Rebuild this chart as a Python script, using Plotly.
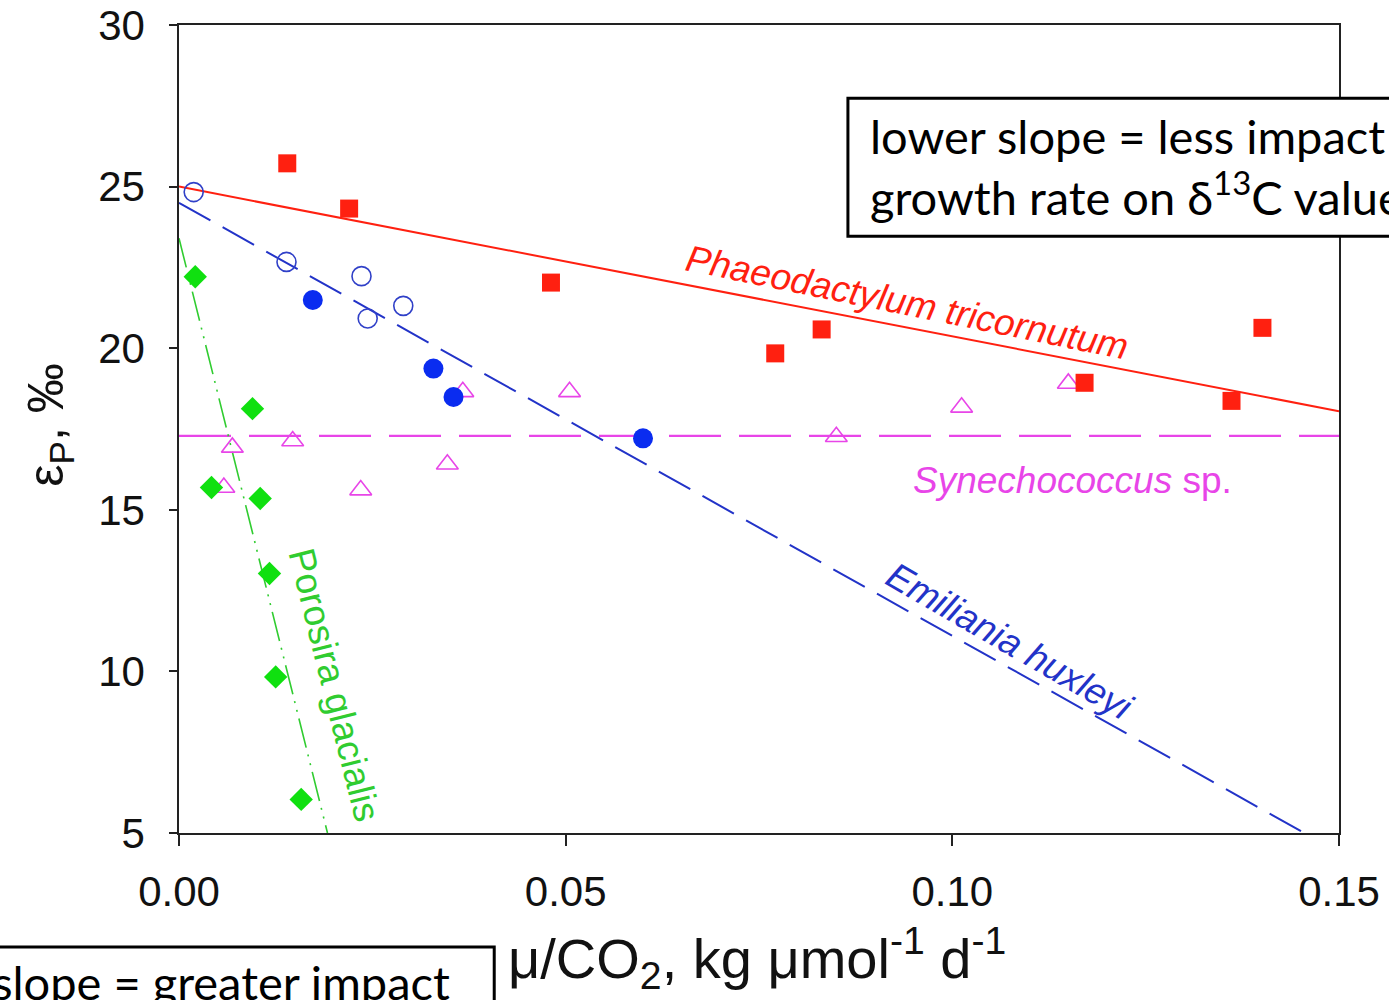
import plotly.graph_objects as go

# ---------------- data ----------------
# Phaeodactylum tricornutum (red filled squares)
phaeo_x = [0.0140, 0.0220, 0.0481, 0.0771, 0.0831, 0.1171, 0.1361, 0.1401]
phaeo_y = [25.72, 24.32, 22.03, 19.84, 20.58, 18.93, 18.37, 20.63]
phaeo_fit_x = [0.0, 0.15]
phaeo_fit_y = [25.0, 18.05]

# Emiliania huxleyi (blue filled circles and open circles)
ehux_filled_x = [0.0173, 0.0329, 0.0355, 0.0600]
ehux_filled_y = [21.49, 19.37, 18.49, 17.21]
ehux_open_x = [0.0019, 0.0139, 0.0236, 0.0244, 0.0290]
ehux_open_y = [24.83, 22.67, 22.23, 20.92, 21.31]
ehux_fit_x = [0.0, 0.1455]
ehux_fit_y = [24.5, 5.0]

# Synechococcus sp. (magenta open triangles)
syn_x = [0.0058, 0.0069, 0.0147, 0.0235, 0.0347, 0.0367, 0.0505, 0.0850, 0.1012, 0.1150]
syn_y = [15.69, 16.93, 17.13, 15.61, 16.41, 18.65, 18.65, 17.26, 18.17, 18.91]
syn_fit_x = [0.0, 0.15]
syn_fit_y = [17.29, 17.29]

# Porosira glacialis (green filled diamonds)
poro_x = [0.0021, 0.0042, 0.0095, 0.0105, 0.0117, 0.0125, 0.0158]
poro_y = [22.21, 15.69, 18.13, 15.35, 13.03, 9.83, 6.04]
poro_fit_x = [0.0, 0.0192]
poro_fit_y = [23.4, 5.0]

x_ticks = [0.0, 0.05, 0.10, 0.15]
x_tick_labels = ["0.00", "0.05", "0.10", "0.15"]
y_ticks = [5, 10, 15, 20, 25, 30]
y_tick_labels = ["5", "10", "15", "20", "25", "30"]

RED = "#ff2010"
BLUE_F = "#0a2cf0"
BLUE_L = "#2233c8"
BLUE_O = "#3040c8"
MAG = "#e845e8"
GREEN = "#10e010"
GREEN_L = "#30cc30"

fig = go.Figure()

# fit lines
fig.add_trace(go.Scatter(x=syn_fit_x, y=syn_fit_y, mode="lines",
                         line=dict(color=MAG, width=2.2, dash="52px,18px"), hoverinfo="skip"))
fig.add_trace(go.Scatter(x=phaeo_fit_x, y=phaeo_fit_y, mode="lines",
                         line=dict(color=RED, width=2), hoverinfo="skip"))
fig.add_trace(go.Scatter(x=ehux_fit_x, y=ehux_fit_y, mode="lines",
                         line=dict(color=BLUE_L, width=2, dash="36px,14px"), hoverinfo="skip"))
fig.add_trace(go.Scatter(x=poro_fit_x, y=poro_fit_y, mode="lines",
                         line=dict(color=GREEN_L, width=1.6, dash="30px,7px,2px,7px,2px,7px"),
                         hoverinfo="skip"))

# markers
fig.add_trace(go.Scatter(x=syn_x, y=syn_y, mode="markers",
                         marker=dict(symbol="triangle-up-open", size=19, color=MAG,
                                     line=dict(color=MAG, width=1.6))))
fig.add_trace(go.Scatter(x=poro_x, y=poro_y, mode="markers",
                         marker=dict(symbol="diamond", size=18, color=GREEN,
                                     line=dict(width=0))))
fig.add_trace(go.Scatter(x=ehux_open_x, y=ehux_open_y, mode="markers",
                         marker=dict(symbol="circle-open", size=19, color=BLUE_O,
                                     line=dict(color=BLUE_O, width=1.6))))
fig.add_trace(go.Scatter(x=ehux_filled_x, y=ehux_filled_y, mode="markers",
                         marker=dict(symbol="circle", size=20, color=BLUE_F,
                                     line=dict(width=0))))
fig.add_trace(go.Scatter(x=phaeo_x, y=phaeo_y, mode="markers",
                         marker=dict(symbol="square", size=18, color=RED,
                                     line=dict(width=0))))

label_font = "Liberation Sans, Arial, sans-serif"
box_font = "Lato, Open Sans, sans-serif"

annotations = [
    dict(x=0.0941, y=21.42, xref="x", yref="y", text="<i>Phaeodactylum tricornutum</i>",
         showarrow=False, textangle=11.5, font=dict(family=label_font, size=37, color=RED)),
    dict(x=0.1074, y=10.91, xref="x", yref="y", text="<i>Emiliania huxleyi</i>",
         showarrow=False, textangle=30, font=dict(family=label_font, size=37, color=BLUE_L)),
    dict(x=0.0200, y=9.58, xref="x", yref="y", text="Porosira glacialis",
         showarrow=False, textangle=76, font=dict(family=label_font, size=37, color=GREEN_L)),
    dict(x=0.1156, y=15.92, xref="x", yref="y", text="<i>Synechococcus</i> sp.",
         showarrow=False, font=dict(family=label_font, size=37, color=MAG)),
    # axis titles
    dict(x=757, y=958, xref="paper", yref="paper", text="μ/CO<sub>2</sub>, kg μmol<sup>-1</sup> d<sup>-1</sup>",
         showarrow=False, font=dict(family=label_font, size=56, color="#111")),
    dict(x=49, y=425, xref="paper", yref="paper", text="ε<sub>P</sub>, ‰", textangle=-90,
         showarrow=False, font=dict(family=label_font, size=50, color="#111")),
    # boxed notes
    dict(x=868, y=166, xref="paper", yref="paper",
         text="lower slope = less impact of<br>growth rate on δ<sup>13</sup>C values",
         showarrow=False, xanchor="left", yanchor="middle", align="left",
         font=dict(family=box_font, size=47, color="#000")),
    dict(x=452, y=982, xref="paper", yref="paper",
         text="higher slope = greater impact",
         showarrow=False, xanchor="right", yanchor="middle", align="right",
         font=dict(family=box_font, size=47, color="#000")),
]

# convert pixel positions of paper annotations to paper coordinates
L, R, T, B = 178.5, 1339.5, 24.7, 833.0
W, H = R - L, B - T
for a in annotations:
    a.setdefault("xanchor", "center")
    a.setdefault("yanchor", "middle")
    if a["xref"] == "paper":
        a["x"] = (a["x"] - L) / W
        a["y"] = (B - a["y"]) / H

def px2paper(x0, y0, x1, y1):
    return dict(x0=(x0 - L) / W, x1=(x1 - L) / W, y0=(B - y1) / H, y1=(B - y0) / H)

shapes = [
    dict(type="rect", xref="paper", yref="paper", line=dict(color="#000", width=3),
         fillcolor="rgba(255,255,255,1)", layer="above", **px2paper(848, 98, 1420, 236)),
    dict(type="rect", xref="paper", yref="paper", line=dict(color="#000", width=3),
         fillcolor="rgba(255,255,255,1)", layer="above", **px2paper(-30, 947, 494, 1040)),
]

fig.update_layout(
    width=1389, height=1000,
    margin=dict(l=L, r=1389 - R, t=T, b=1000 - B, pad=0, autoexpand=False),
    paper_bgcolor="white", plot_bgcolor="white",
    showlegend=False,
    annotations=annotations,
    shapes=shapes,
    font=dict(family=label_font, color="#111"),
)
fig.update_xaxes(range=[0, 0.15], tickvals=x_ticks, ticktext=x_tick_labels,
                 showgrid=False, zeroline=False, showline=True, mirror=True, automargin=False,
                 linecolor="#222", linewidth=1.5, ticks="outside", ticklen=11,
                 tickcolor="#222", tickwidth=1.5, ticklabelstandoff=10,
                 tickfont=dict(family=label_font, size=42, color="#111"))
fig.update_yaxes(range=[5, 30], tickvals=y_ticks, ticktext=y_tick_labels,
                 showgrid=False, zeroline=False, showline=True, mirror=True, automargin=False,
                 linecolor="#222", linewidth=1.5, ticks="outside", ticklen=8,
                 tickcolor="#222", tickwidth=1.5, ticklabelstandoff=16,
                 tickfont=dict(family=label_font, size=42, color="#111"))

fig.write_html("out.html")
